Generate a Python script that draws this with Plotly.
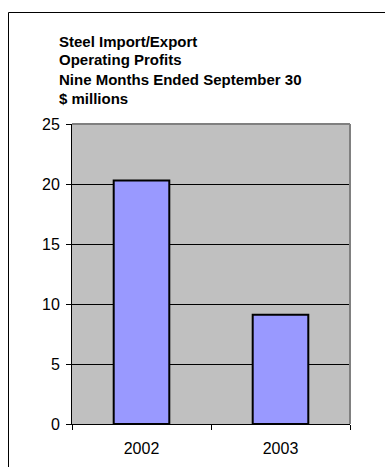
import plotly.graph_objects as go

# Operating profits by year ($ millions)
years = ["2002", "2003"]
profits = [20.3, 9.1]
title_lines = [
    "Steel Import/Export",
    "Operating Profits",
    "Nine Months Ended September 30",
    "$ millions",
]
y_ticks = [0, 5, 10, 15, 20, 25]

FONT = "Liberation Sans, Arial, sans-serif"

fig = go.Figure(
    go.Bar(
        x=years,
        y=profits,
        marker=dict(color="#9999FF", line=dict(color="black", width=2)),
        width=0.4,
    )
)

W, H = 385, 467
L, R, T, B = 72, 35, 124, 43

fig.update_layout(
    width=W,
    height=H,
    margin=dict(l=L, r=R, t=T, b=B, pad=0),
    plot_bgcolor="#C0C0C0",
    paper_bgcolor="white",
    showlegend=False,
    font=dict(family=FONT, size=16, color="black"),
)

fig.update_yaxes(
    range=[0, 25],
    tickvals=y_ticks,
    showgrid=True,
    gridcolor="black",
    gridwidth=1,
    showline=True,
    linecolor="black",
    linewidth=1,
    ticks="outside",
    ticklen=5,
    tickcolor="black",
    tickfont=dict(family=FONT, size=16),
    ticklabelstandoff=3,
    zeroline=False,
    automargin=False,
    fixedrange=True,
)
fig.update_xaxes(
    showgrid=False,
    showline=True,
    linecolor="black",
    linewidth=1,
    ticks="outside",
    tickson="boundaries",
    ticklen=5,
    tickcolor="black",
    tickfont=dict(family=FONT, size=16),
    ticklabelstandoff=10,
    automargin=False,
    fixedrange=True,
)

# Gray frame on the top and right edges of the plot area
fig.add_shape(type="line", xref="paper", yref="paper", x0=0, x1=1, y0=1, y1=1,
              line=dict(color="#808080", width=2))
fig.add_shape(type="line", xref="paper", yref="paper", x0=1, x1=1, y0=0, y1=1,
              line=dict(color="#808080", width=2))

# Outer chart border (runs off the right and bottom edges)
ph = H - T - B
pw = W - L - R
def px_x(px):
    return (px - L) / pw
def px_y(py):
    return (H - B - py) / ph

fig.add_shape(type="rect", xref="paper", yref="paper",
              x0=px_x(8.5), x1=px_x(W + 20), y0=px_y(12.5), y1=px_y(H + 20),
              line=dict(color="black", width=1), fillcolor="rgba(0,0,0,0)")

# Multi-line bold title
for i, line in enumerate(title_lines):
    fig.add_annotation(
        text=f"<b>{line}</b>", xref="paper", yref="paper",
        x=px_x(57), y=px_y(41 + 19 * i),
        xanchor="left", yanchor="middle", showarrow=False,
        font=dict(family=FONT, size=15, color="black"),
    )

fig.write_html("out.html")
